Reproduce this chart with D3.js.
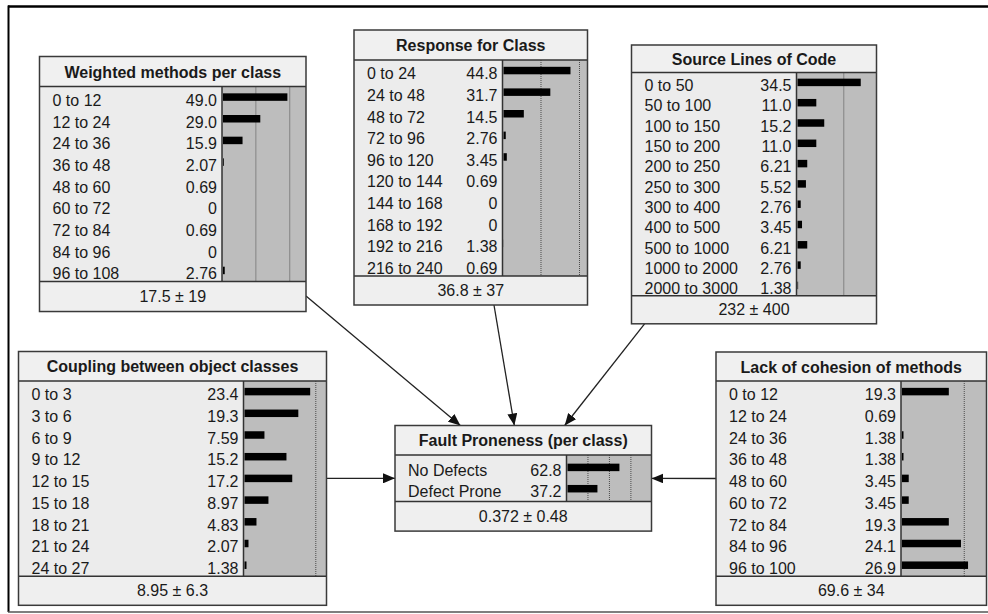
<!DOCTYPE html>
<html>
<head>
<meta charset="utf-8">
<script src="https://cdn.jsdelivr.net/npm/d3@7"></script>
<style>
  body { margin: 0; background: #fff; }
  svg { display: block; font-family: "Liberation Sans", Arial, sans-serif; }
</style>
</head>
<body>
<svg id="net" width="988" height="614"></svg>
<script>
// ---- node data (percentages) ----
const wmcTitle = "Weighted methods per class";
const wmcStates = ["0 to 12", "12 to 24", "24 to 36", "36 to 48", "48 to 60", "60 to 72", "72 to 84", "84 to 96", "96 to 108"];
const wmcProbs = [49.0, 29.0, 15.9, 2.07, 0.69, 0, 0.69, 0, 2.76];
const wmcSummary = "17.5 ± 19";

const rfcTitle = "Response for Class";
const rfcStates = ["0 to 24", "24 to 48", "48 to 72", "72 to 96", "96 to 120", "120 to 144", "144 to 168", "168 to 192", "192 to 216", "216 to 240"];
const rfcProbs = [44.8, 31.7, 14.5, 2.76, 3.45, 0.69, 0, 0, 1.38, 0.69];
const rfcSummary = "36.8 ± 37";

const slocTitle = "Source Lines of Code";
const slocStates = ["0 to 50", "50 to 100", "100 to 150", "150 to 200", "200 to 250", "250 to 300", "300 to 400", "400 to 500", "500 to 1000", "1000 to 2000", "2000 to 3000"];
const slocProbs = [34.5, 11.0, 15.2, 11.0, 6.21, 5.52, 2.76, 3.45, 6.21, 2.76, 1.38];
const slocSummary = "232 ± 400";

const cboTitle = "Coupling between object classes";
const cboStates = ["0 to 3", "3 to 6", "6 to 9", "9 to 12", "12 to 15", "15 to 18", "18 to 21", "21 to 24", "24 to 27"];
const cboProbs = [23.4, 19.3, 7.59, 15.2, 17.2, 8.97, 4.83, 2.07, 1.38];
const cboSummary = "8.95 ± 6.3";

const fpTitle = "Fault Proneness (per class)";
const fpStates = ["No Defects", "Defect Prone"];
const fpProbs = [62.8, 37.2];
const fpSummary = "0.372 ± 0.48";

const lcomTitle = "Lack of cohesion of methods";
const lcomStates = ["0 to 12", "12 to 24", "24 to 36", "36 to 48", "48 to 60", "60 to 72", "72 to 84", "84 to 96", "96 to 100"];
const lcomProbs = [19.3, 0.69, 1.38, 1.38, 3.45, 3.45, 19.3, 24.1, 26.9];
const lcomSummary = "69.6 ± 34";

const links = [["wmc", "fp"], ["rfc", "fp"], ["sloc", "fp"], ["cbo", "fp"], ["lcom", "fp"]];

// ---- layout of the boxes on the canvas ----
const layout = {
  wmc:  { x: 39.5,  y: 56.5,  w: 266.5, titleH: 30,   rowH: 21.67, pad: 0, footH: 30,   barX: 182.5, max: 62 },
  rfc:  { x: 354,   y: 30,    w: 233.5, titleH: 30,   rowH: 21.6,  pad: 0, footH: 29,   barX: 148.5, max: 55.2 },
  sloc: { x: 631.5, y: 45,    w: 245,   titleH: 27.5, rowH: 20.3,  pad: 0, footH: 28,   barX: 165,   max: 42.3 },
  cbo:  { x: 18.5,  y: 351.5, w: 308,   titleH: 29.5, rowH: 21.7,  pad: 0, footH: 29,   barX: 225,   max: 28.7 },
  fp:   { x: 395,   y: 425.5, w: 256.5, titleH: 29.5, rowH: 21.3,  pad: 2, footH: 29.5, barX: 171.5, max: 99 },
  lcom: { x: 716,   y: 352,   w: 270.5, titleH: 29,   rowH: 21.7,  pad: 0, footH: 29,   barX: 185,   max: 33.8 }
};

const nodes = [
  { key: "wmc",  title: wmcTitle,  states: wmcStates,  probs: wmcProbs,  summary: wmcSummary },
  { key: "rfc",  title: rfcTitle,  states: rfcStates,  probs: rfcProbs,  summary: rfcSummary },
  { key: "sloc", title: slocTitle, states: slocStates, probs: slocProbs, summary: slocSummary },
  { key: "cbo",  title: cboTitle,  states: cboStates,  probs: cboProbs,  summary: cboSummary },
  { key: "fp",   title: fpTitle,   states: fpStates,   probs: fpProbs,   summary: fpSummary },
  { key: "lcom", title: lcomTitle, states: lcomStates, probs: lcomProbs, summary: lcomSummary }
];

nodes.forEach(n => {
  Object.assign(n, layout[n.key]);
  n.bodyH = n.pad * 2 + n.states.length * n.rowH;
  n.h = n.titleH + n.bodyH + n.footH;
  n.cx = n.x + n.w / 2;
  n.cy = n.y + n.h / 2;
});
const byKey = Object.fromEntries(nodes.map(n => [n.key, n]));

const fmt = v => v === 0 ? "0" : v >= 10 ? v.toFixed(1) : v.toFixed(2);

const svg = d3.select("#net");

// outer frame
svg.append("line").attr("x1", 8).attr("x2", 988).attr("y1", 6.5).attr("y2", 6.5)
  .attr("stroke", "#000").attr("stroke-width", 2.5);
svg.append("line").attr("x1", 8.5).attr("x2", 8.5).attr("y1", 5.5).attr("y2", 612)
  .attr("stroke", "#000").attr("stroke-width", 2);
svg.append("line").attr("x1", 8).attr("x2", 988).attr("y1", 612).attr("y2", 612)
  .attr("stroke", "#555").attr("stroke-width", 1.5);

// arrow head
svg.append("defs").append("marker")
  .attr("id", "arrow")
  .attr("viewBox", "0 0 12 10")
  .attr("refX", 12).attr("refY", 5)
  .attr("markerUnits", "userSpaceOnUse")
  .attr("markerWidth", 12).attr("markerHeight", 10)
  .attr("orient", "auto")
  .append("path").attr("d", "M0,0L12,5L0,10Z").attr("fill", "#111");

// edge point of a box along the line between two centres
function edgePoint(n, dx, dy) {
  const tx = dx === 0 ? Infinity : (n.w / 2) / Math.abs(dx);
  const ty = dy === 0 ? Infinity : (n.h / 2) / Math.abs(dy);
  const t = Math.min(tx, ty);
  return [n.cx + dx * t, n.cy + dy * t];
}

svg.append("g").selectAll("line")
  .data(links)
  .join("line")
  .each(function([s, t]) {
    const a = byKey[s], b = byKey[t];
    const dx = b.cx - a.cx, dy = b.cy - a.cy;
    const p0 = edgePoint(a, dx, dy);
    const p1 = edgePoint(b, -dx, -dy);
    d3.select(this)
      .attr("x1", p0[0]).attr("y1", p0[1])
      .attr("x2", p1[0]).attr("y2", p1[1]);
  })
  .attr("stroke", "#222")
  .attr("stroke-width", 1.3)
  .attr("marker-end", "url(#arrow)");

// nodes
nodes.forEach(n => {
  const g = svg.append("g").attr("transform", `translate(${n.x},${n.y})`);
  const bodyTop = n.titleH;
  const footTop = n.titleH + n.bodyH;
  const barW = n.w - n.barX;
  const x = d3.scaleLinear().domain([0, n.max]).range([0, barW]);
  const y = d3.scaleBand().domain(d3.range(n.states.length))
    .range([bodyTop + n.pad, bodyTop + n.pad + n.states.length * n.rowH]);

  g.append("rect").attr("width", n.w).attr("height", n.titleH).attr("fill", "#f0f0f0");
  g.append("rect").attr("y", bodyTop).attr("width", n.barX).attr("height", n.bodyH).attr("fill", "#ececec");
  g.append("rect").attr("x", n.barX).attr("y", bodyTop).attr("width", barW).attr("height", n.bodyH).attr("fill", "#bdbdbd");
  g.append("rect").attr("y", footTop).attr("width", n.w).attr("height", n.footH).attr("fill", "#efefef");

  // dotted guide lines every 25%
  g.selectAll("line.grid")
    .data(d3.range(25, n.max, 25))
    .join("line")
    .attr("class", "grid")
    .attr("x1", d => n.barX + x(d)).attr("x2", d => n.barX + x(d))
    .attr("y1", bodyTop).attr("y2", footTop)
    .attr("stroke", "#4a4a4a").attr("stroke-width", 1)
    .attr("stroke-dasharray", "1,1");

  // bars
  g.selectAll("rect.bar")
    .data(n.probs)
    .join("rect")
    .attr("class", "bar")
    .attr("x", n.barX + 1)
    .attr("y", (d, i) => y(i) + n.rowH / 2 - 4)
    .attr("width", d => Math.max(0, x(d) - 2))
    .attr("height", 7.5)
    .attr("fill", "#000");

  // state names and values
  g.selectAll("text.state")
    .data(n.states)
    .join("text")
    .attr("class", "state")
    .attr("x", 13)
    .attr("y", (d, i) => y(i) + n.rowH / 2 + 8.5)
    .attr("font-size", 16)
    .attr("fill", "#1a1a1a")
    .text(d => d);

  g.selectAll("text.prob")
    .data(n.probs)
    .join("text")
    .attr("class", "prob")
    .attr("x", n.barX - 5)
    .attr("y", (d, i) => y(i) + n.rowH / 2 + 8.5)
    .attr("text-anchor", "end")
    .attr("font-size", 16)
    .attr("fill", "#1a1a1a")
    .text(fmt);

  // separators and frame
  const sep = [[0, bodyTop, n.w, bodyTop], [0, footTop, n.w, footTop], [n.barX, bodyTop, n.barX, footTop]];
  g.selectAll("line.sep")
    .data(sep)
    .join("line")
    .attr("class", "sep")
    .attr("x1", d => d[0]).attr("y1", d => d[1])
    .attr("x2", d => d[2]).attr("y2", d => d[3])
    .attr("stroke", "#333").attr("stroke-width", 1.5);
  g.append("rect").attr("width", n.w).attr("height", n.h)
    .attr("fill", "none").attr("stroke", "#3a3a3a").attr("stroke-width", 1.5);

  g.append("text")
    .attr("x", n.w / 2).attr("y", n.titleH / 2 + 6)
    .attr("text-anchor", "middle")
    .attr("font-size", 16).attr("font-weight", "bold")
    .attr("fill", "#1a1a1a")
    .text(n.title);

  g.append("text")
    .attr("x", n.w / 2).attr("y", footTop + n.footH / 2 + 5.5)
    .attr("text-anchor", "middle")
    .attr("font-size", 16)
    .attr("fill", "#1a1a1a")
    .text(n.summary);
});
</script>
</body>
</html>
